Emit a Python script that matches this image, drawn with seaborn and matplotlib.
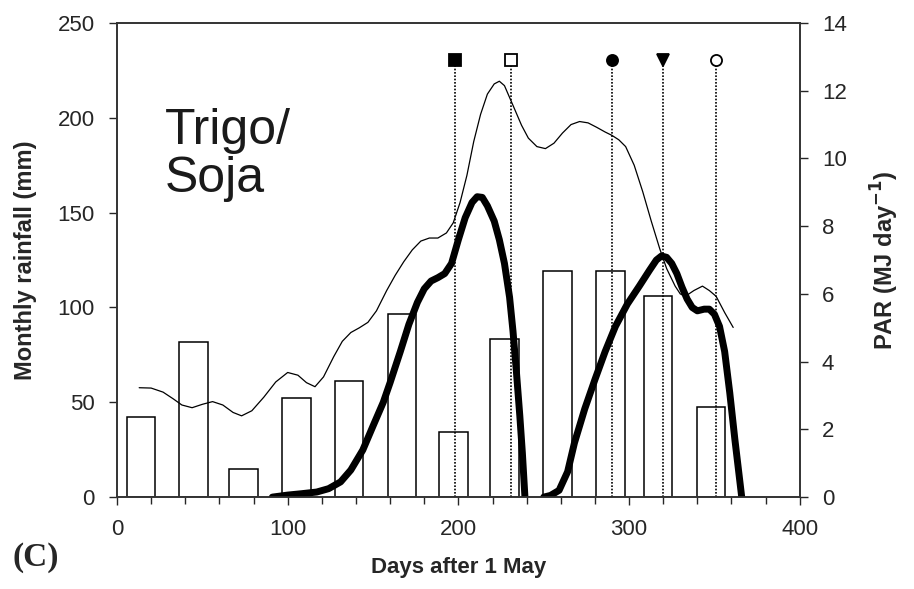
import matplotlib
matplotlib.use("Agg")
import matplotlib.pyplot as plt
import seaborn as sns
import pandas as pd
import numpy as np

# ---- data ----
bar_days = [14, 45, 74, 105, 136, 167, 197, 227, 258, 289, 317, 348]
rainfall = [42, 82, 15, 52, 61, 96.5, 34.5, 83.5, 119, 119, 106, 47.5]

par_days = [13, 20, 27, 33, 38, 44, 50, 56, 62, 68, 73, 79, 86, 93, 100, 106, 111, 116,
            121, 127, 132, 137, 142, 147, 152, 158, 163, 168, 173, 178, 183, 188, 193,
            197, 201, 205, 209, 213, 217, 221, 224, 227, 230, 233, 237, 241, 246, 251,
            256, 261, 266, 271, 276, 281, 286, 290, 294, 298, 303, 308, 313, 318, 322,
            327, 330, 333, 338, 343, 347, 351, 356, 361]
par_vals = [3.23, 3.22, 3.10, 2.90, 2.72, 2.64, 2.74, 2.82, 2.72, 2.50, 2.40, 2.55, 2.95,
            3.40, 3.68, 3.60, 3.38, 3.26, 3.55, 4.15, 4.60, 4.86, 5.00, 5.16, 5.50, 6.10,
            6.55, 6.95, 7.30, 7.56, 7.65, 7.65, 7.80, 8.1, 8.7, 9.5, 10.5, 11.3, 11.9,
            12.2, 12.28, 12.15, 11.8, 11.45, 10.98, 10.6, 10.35, 10.29, 10.45, 10.75,
            11.0, 11.09, 11.05, 10.92, 10.78, 10.68, 10.55, 10.35, 9.8, 9.02, 8.15, 7.33,
            6.75, 6.23, 6.0, 5.93, 6.10, 6.23, 6.10, 5.93, 5.45, 5.01]

crop1_days = [91, 100, 108, 117, 124, 131, 137, 144, 150, 156, 160, 166, 171, 176, 180,
              184, 188, 192, 196, 200, 204, 208, 211, 214, 217, 221, 224, 227, 230, 232,
              234, 236, 237.5, 239]
crop1_vals = [0, 0.06, 0.1, 0.15, 0.25, 0.45, 0.8, 1.39, 2.1, 2.8, 3.38, 4.3, 5.1, 5.75,
              6.15, 6.38, 6.48, 6.6, 6.9, 7.6, 8.25, 8.7, 8.87, 8.85, 8.6, 8.15, 7.6, 6.9,
              5.9, 4.9, 3.7, 2.4, 1.3, 0]

crop2_days = [250, 254, 259, 264, 268, 274, 280, 286, 292, 299, 306, 312, 316, 319, 322,
              325, 328, 331, 334, 337, 340, 344, 347, 350, 353, 356, 359, 362, 366]
crop2_vals = [0, 0.05, 0.2, 0.75, 1.6, 2.6, 3.47, 4.3, 5.04, 5.7, 6.23, 6.7, 7.0, 7.12,
              7.08, 6.9, 6.6, 6.2, 5.85, 5.6, 5.5, 5.55, 5.55, 5.4, 5.04, 4.3, 3.08, 1.7, 0]

stage_days = [198, 231, 290, 320, 351]
stage_par = [12.9, 12.9, 12.9, 12.9, 12.9]
stage_markers = ["s", "s", "o", "v", "o"]
stage_filled = [True, False, True, True, False]

# ---- style ----
sns.set_style("ticks")
plt.rcParams["font.family"] = ["Liberation Sans", "DejaVu Sans"]

fig = plt.figure(figsize=(9.14, 5.89), dpi=100)
ax = fig.add_axes([0.128, 0.156, 0.747, 0.805])

bars = pd.DataFrame({"day": bar_days, "rain": rainfall})
sns.barplot(data=bars, x="day", y="rain", native_scale=True, width=0.6,
            color="white", edgecolor="black", linewidth=1.1, saturation=1,
            errorbar=None, ax=ax)

ax.set_xlim(0, 400)
ax.set_ylim(0, 250)
ax.set_xticks([0, 100, 200, 300, 400])
ax.set_xticks(np.arange(0, 401, 20), minor=True)
ax.set_yticks([0, 50, 100, 150, 200, 250])
ax.tick_params(axis="x", which="major", direction="out", length=6, width=1, labelsize=16, pad=10)
ax.tick_params(axis="x", which="minor", direction="out", length=5, width=1)
ax.tick_params(axis="y", direction="out", length=6, width=1, labelsize=16, pad=10)
for s in ax.spines.values():
    s.set_linewidth(1.2)
    s.set_color("#333333")
ax.set_xlabel("Days after 1 May", fontsize=16, fontweight="bold", labelpad=12)
ax.set_ylabel("Monthly rainfall (mm)", fontsize=17, fontweight="bold", labelpad=15)

ax2 = ax.twinx()
ax2.set_ylim(0, 14)
ax2.set_yticks(np.arange(0, 15, 2))
ax2.tick_params(axis="y", direction="out", length=6, width=1, labelsize=16, pad=10)
for s in ax2.spines.values():
    s.set_linewidth(1.2)
    s.set_color("#333333")

# stage lines and markers
for d, p, m, f in zip(stage_days, stage_par, stage_markers, stage_filled):
    ax2.plot([d, d], [0, p], color="black", linestyle=(0, (1, 1)), linewidth=1.2)
    ax2.plot([d], [p], marker=m, markersize=8, markeredgewidth=1.3,
             markerfacecolor="black" if f else "white", markeredgecolor="black",
             linestyle="none", zorder=5)

par = pd.DataFrame({"day": par_days, "par": par_vals})
sns.lineplot(data=par, x="day", y="par", sort=False, color="black", linewidth=0.9, ax=ax2)
c1 = pd.DataFrame({"day": crop1_days, "v": crop1_vals})
sns.lineplot(data=c1, x="day", y="v", sort=False, color="black", linewidth=5,
             solid_capstyle="round", solid_joinstyle="round", ax=ax2)
c2 = pd.DataFrame({"day": crop2_days, "v": crop2_vals})
sns.lineplot(data=c2, x="day", y="v", sort=False, color="black", linewidth=5,
             solid_capstyle="round", solid_joinstyle="round", ax=ax2)
ax2.set_xlim(0, 400)
ax2.set_xlabel("")
ax2.set_ylabel("PAR (MJ day$^{\\mathbf{-1}}$)", fontsize=17, fontweight="bold", labelpad=16)

ax.text(0.07, 0.82, "Trigo/\nSoja", transform=ax.transAxes, fontsize=36,
        va="top", ha="left", linespacing=1.05, color="#1a1a1a")
fig.text(0.014, 0.039, "(C)", fontsize=24, fontweight="bold",
         family=["Liberation Serif", "DejaVu Serif"], ha="left", va="baseline")

fig.savefig("out.png", dpi=100)
